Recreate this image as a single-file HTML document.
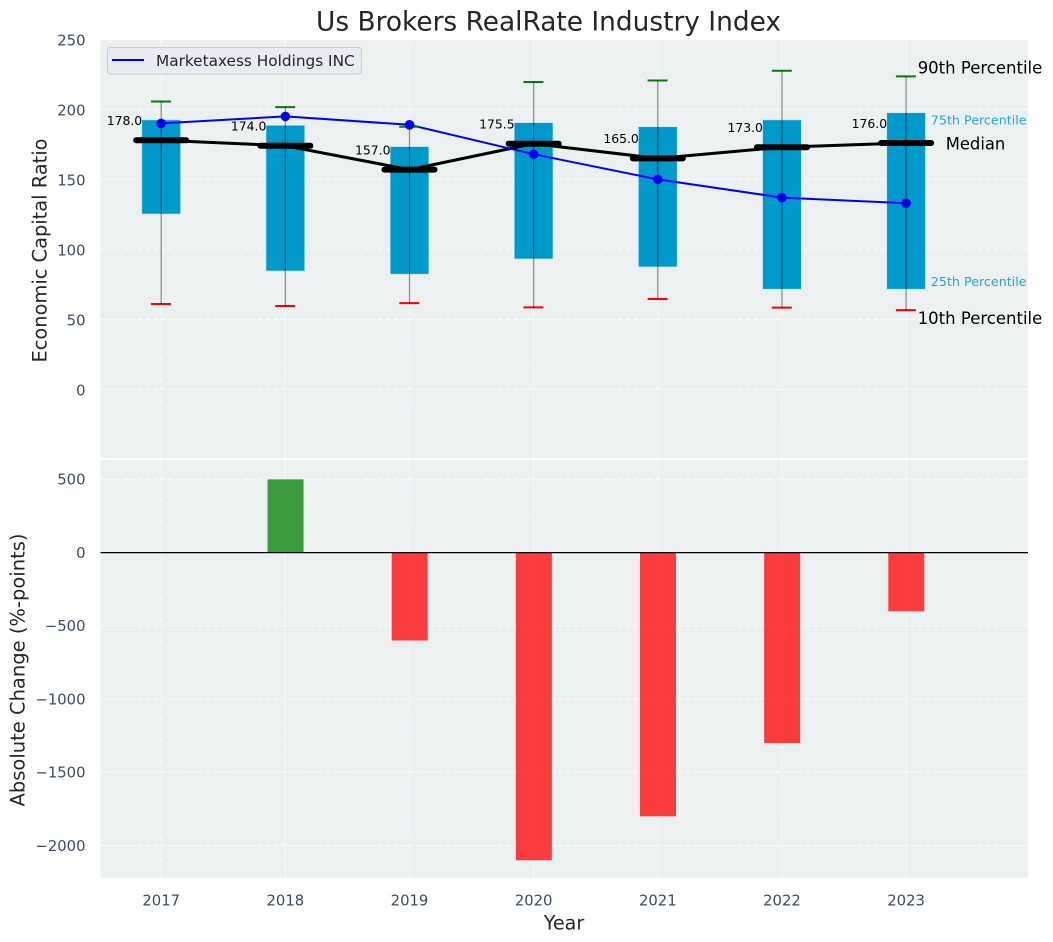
<!DOCTYPE html>
<html lang="en">
<head>
<meta charset="utf-8">
<title>Us Brokers RealRate Industry Index</title>
<style>
html,body{margin:0;padding:0;background:#fff;width:1053px;height:942px;overflow:hidden}
svg{display:block;font-family:"DejaVu Sans","Liberation Sans",sans-serif}
</style>
</head>
<body>
<svg id="chart" xmlns="http://www.w3.org/2000/svg" width="1053" height="942" viewBox="0 0 1053 942"></svg>
<script>
const years = [2017, 2018, 2019, 2020, 2021, 2022, 2023];
const p90 = [205.6, 201.6, 187.6, 219.6, 220.6, 227.6, 223.6];
const p75 = [192.5, 188.6, 173.4, 190.5, 187.6, 192.5, 197.6];
const medians = [178, 174, 157, 175.5, 165, 173, 176];
const p25 = [125.3, 84.6, 82.3, 93.2, 87.5, 71.6, 71.6];
const p10 = [61, 59.6, 61.6, 58.6, 64.6, 58.4, 56.6];
const company = [190, 195, 189, 168, 150, 137, 133];
const changes = [0, 500, -600, -2100, -1800, -1300, -400];
const upperTicks = [0, 50, 100, 150, 200, 250];
const lowerTicks = [-2000, -1500, -1000, -500, 0, 500];
const companyName = 'Marketaxess Holdings INC';

const NS = 'http://www.w3.org/2000/svg';
const svg = document.getElementById('chart');
const L = 100.5, R = 1028;
const uTop = 40, uBot = 458, lTop = 460, lBot = 878;
const tickFont = 14.8;

function xAxis(v) { return 161.2 + (v - 2017) * 124.15; }
function yUpper(v) { return 389.4 - v * 1.4; }
function yLower(v) { return 552.6 - v * 0.1465; }
function fmtTick(v) { return v < 0 ? '\u2212' + Math.abs(v) : String(v); }

function mk(tag, attrs, text) {
  const el = document.createElementNS(NS, tag);
  for (const k in attrs) el.setAttribute(k, attrs[k]);
  if (text !== undefined) el.textContent = text;
  svg.appendChild(el);
  return el;
}
function named(el, name) {
  
  
  return el;
}

// Backgrounds
named(mk('rect', {x: L, y: uTop, width: R - L, height: uBot - uTop, fill: '#ecf0f1'}), 'upper-plot-area');
named(mk('rect', {x: L, y: lTop, width: R - L, height: lBot - lTop, fill: '#ecf0f1'}), 'lower-plot-area');

// Grids
const gridStyle = {stroke: '#ffffff', 'stroke-width': 1.1, 'stroke-dasharray': '5 2.5', 'stroke-opacity': 0.75};
years.forEach(function (y) {
  const x = xAxis(y);
  named(mk('line', Object.assign({x1: x, x2: x, y1: uTop, y2: uBot}, gridStyle)), 'upper-grid-x-' + y);
  named(mk('line', Object.assign({x1: x, x2: x, y1: lTop, y2: lBot}, gridStyle)), 'lower-grid-x-' + y);
});
upperTicks.forEach(function (t) {
  const y = yUpper(t);
  named(mk('line', Object.assign({x1: L, x2: R, y1: y, y2: y}, gridStyle)), 'upper-grid-y-' + t);
  named(mk('text', {x: 85.5, y: y + 6.2, 'text-anchor': 'end', 'font-size': tickFont, fill: '#3b4d63'}, fmtTick(t)), 'upper-tick-label-' + t);
});
lowerTicks.forEach(function (t) {
  const y = yLower(t);
  named(mk('line', Object.assign({x1: L, x2: R, y1: y, y2: y}, gridStyle)), 'lower-grid-y-' + t);
  named(mk('text', {x: 85.5, y: y + 5.3, 'text-anchor': 'end', 'font-size': tickFont, fill: '#3b4d63'}, fmtTick(t)), 'lower-tick-label-' + t);
});

// Boxes
const boxW = 38.7;
years.forEach(function (y, i) {
  const x = xAxis(y);
  named(mk('rect', {x: x - boxW / 2, y: yUpper(p75[i]), width: boxW, height: yUpper(p25[i]) - yUpper(p75[i]), fill: '#0099cc', stroke: '#bfe3ee', 'stroke-width': 0.6}), 'box-' + y);
});

// Median connecting line
named(mk('polyline', {points: years.map(function (y, i) { return xAxis(y) + ',' + yUpper(medians[i]); }).join(' '), fill: 'none', stroke: '#000', 'stroke-width': 3, 'stroke-linejoin': 'round'}), 'median-line');

// Company line
named(mk('polyline', {points: years.map(function (y, i) { return xAxis(y) + ',' + yUpper(company[i]); }).join(' '), fill: 'none', stroke: '#0000ff', 'stroke-width': 2, 'stroke-linejoin': 'round'}), 'company-line');

years.forEach(function (y, i) {
  const x = xAxis(y);
  named(mk('line', {x1: x - 10.2, x2: x + 9.8, y1: yUpper(p90[i]), y2: yUpper(p90[i]), stroke: '#008000', 'stroke-width': 2}), 'p90-cap-' + y);
  named(mk('line', {x1: x - 10.2, x2: x + 9.8, y1: yUpper(p10[i]), y2: yUpper(p10[i]), stroke: '#ff0000', 'stroke-width': 2}), 'p10-cap-' + y);
  named(mk('circle', {cx: x, cy: yUpper(company[i]), r: 4.8, fill: '#0000ff'}), 'company-point-' + y);
  named(mk('line', {x1: x, x2: x, y1: yUpper(p90[i]), y2: yUpper(p10[i]), stroke: '#000', 'stroke-width': 1.3, 'stroke-opacity': 0.42}), 'whisker-' + y);
  named(mk('line', {x1: x - 25, x2: x + 25, y1: yUpper(medians[i]), y2: yUpper(medians[i]), stroke: '#000', 'stroke-width': 6, 'stroke-linecap': 'round'}), 'median-marker-' + y);
  named(mk('text', {x: x - 19, y: yUpper(medians[i]) - 15.2, 'text-anchor': 'end', 'font-size': 12.4, fill: '#000'}, medians[i].toFixed(1)), 'median-label-' + y);
});

// Percentile annotations anchored to the last year
const last = years.length - 1;
const xLast = xAxis(years[last]);
named(mk('text', {x: xLast + 11.6, y: yUpper(p90[last]) - 3, 'font-size': 16.5, fill: '#000'}, '90th Percentile'), 'p90-annotation');
named(mk('text', {x: xLast + 11.6, y: yUpper(p10[last]) + 14, 'font-size': 16.5, fill: '#000'}, '10th Percentile'), 'p10-annotation');
named(mk('text', {x: xLast + 39.6, y: yUpper(medians[last]) + 6.5, 'font-size': 16.4, fill: '#000'}, 'Median'), 'median-annotation');
named(mk('text', {x: xLast + 24.7, y: yUpper(p75[last]) + 11.5, 'font-size': 12.7, fill: '#0099cc', 'fill-opacity': 0.85}, '75th Percentile'), 'p75-annotation');
named(mk('text', {x: xLast + 24.7, y: yUpper(p25[last]) - 3, 'font-size': 12.7, fill: '#0099cc', 'fill-opacity': 0.85}, '25th Percentile'), 'p25-annotation');

// Legend
named(mk('rect', {x: 107.5, y: 47.5, width: 254, height: 26.5, rx: 3, fill: '#eaeaf2', stroke: '#cccccc', 'stroke-width': 1}), 'legend-box');
named(mk('line', {x1: 112, x2: 144, y1: 60, y2: 60, stroke: '#0000ff', 'stroke-width': 2}), 'legend-line');
named(mk('text', {x: 156, y: 66, 'font-size': 15.3, fill: '#262626'}, companyName), 'legend-label');

// Change bars
const barW = 36;
years.forEach(function (y, i) {
  const v = changes[i];
  if (v === 0) return;
  const top = yLower(Math.max(v, 0));
  const bot = yLower(Math.min(v, 0));
  named(mk('rect', {x: xAxis(y) - barW / 2 + 0.2, y: top, width: barW, height: bot - top, fill: v > 0 ? '#008000' : '#ff0000', 'fill-opacity': 0.75}), 'change-bar-' + y);
});
named(mk('line', {x1: L, x2: R, y1: yLower(0), y2: yLower(0), stroke: '#000', 'stroke-width': 1.3}), 'zero-line');

// X ticks
years.forEach(function (y) {
  named(mk('text', {x: xAxis(y), y: 905.5, 'text-anchor': 'middle', 'font-size': tickFont, fill: '#3b4d63'}, String(y)), 'x-tick-label-' + y);
});

// Titles
named(mk('text', {x: 548.5, y: 30.5, 'text-anchor': 'middle', 'font-size': 26.4, fill: '#262626'}, 'Us Brokers RealRate Industry Index'), 'chart-title');
named(mk('text', {x: 564, y: 929.5, 'text-anchor': 'middle', 'font-size': 19.2, fill: '#262626'}, 'Year'), 'x-axis-title');
named(mk('text', {transform: 'translate(46.5,250.5) rotate(-90)', 'text-anchor': 'middle', 'font-size': 19.4, fill: '#262626'}, 'Economic Capital Ratio'), 'upper-y-axis-title');
named(mk('text', {transform: 'translate(24.5,670) rotate(-90)', 'text-anchor': 'middle', 'font-size': 19.5, fill: '#262626'}, 'Absolute Change (%-points)'), 'lower-y-axis-title');
</script>
</body>
</html>
